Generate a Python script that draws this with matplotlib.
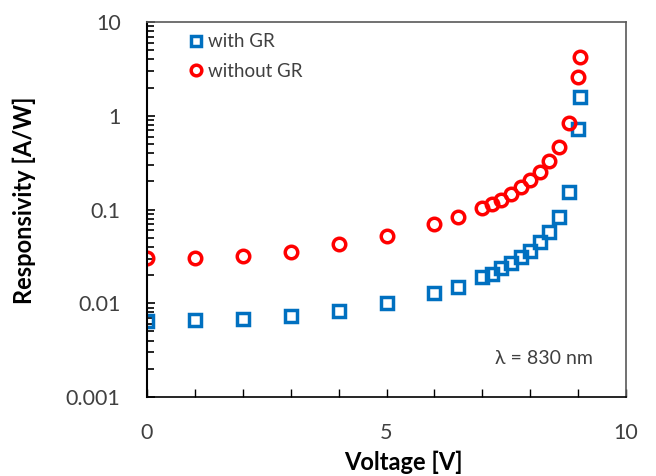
import matplotlib
matplotlib.use("Agg")
import matplotlib.pyplot as plt
from matplotlib.ticker import LogLocator, FixedLocator, NullFormatter, FuncFormatter

plt.rcParams['font.family'] = ['Lato', 'DejaVu Sans']

# Data
v_with = [0, 1, 2, 3, 4, 5, 6, 6.5, 7.0, 7.2, 7.4, 7.6, 7.8, 8.0, 8.2, 8.4, 8.6, 8.8, 9.0, 9.05]
r_with = [0.0065, 0.0066, 0.0068, 0.0073, 0.0083, 0.0101, 0.0129, 0.0149, 0.019, 0.0205,
          0.0238, 0.0269, 0.0311, 0.036, 0.045, 0.0575, 0.083, 0.154, 0.72, 1.58]
v_without = [0, 1, 2, 3, 4, 5, 6, 6.5, 7.0, 7.2, 7.4, 7.6, 7.8, 8.0, 8.2, 8.4, 8.6, 8.8, 9.0, 9.05]
r_without = [0.0304, 0.0304, 0.0319, 0.0352, 0.0428, 0.052, 0.070, 0.083, 0.104, 0.114,
             0.126, 0.146, 0.174, 0.206, 0.251, 0.329, 0.464, 0.837, 2.59, 4.24]
x_ticks = [0, 5, 10]
y_ticks = [0.001, 0.01, 0.1, 1, 10]
y_tick_labels = ['0.001', '0.01', '0.1', '1', '10']

fig = plt.figure(figsize=(6.56, 4.76), dpi=100)
ax = fig.add_axes([147/656, 1-397/476, (626-147)/656, (397-22)/476])

blue = '#0070C0'
red = '#FF0000'
ax.plot(v_with, r_with, linestyle='none', marker='s', markersize=8.9,
        markerfacecolor='none', markeredgecolor=blue, markeredgewidth=2.5, label='with GR')
ax.plot(v_without, r_without, linestyle='none', marker='o', markersize=9,
        markerfacecolor='none', markeredgecolor=red, markeredgewidth=2.5, label='without GR')

ax.set_yscale('log')
ax.set_xlim(0, 10)
ax.set_ylim(0.001, 10)

ax.xaxis.set_major_locator(FixedLocator(x_ticks))
ax.xaxis.set_minor_locator(FixedLocator([1, 2, 3, 4, 6, 7, 8, 9]))
ax.yaxis.set_major_locator(FixedLocator(y_ticks))
ax.yaxis.set_major_formatter(FuncFormatter(lambda v, p: y_tick_labels[y_ticks.index(v)] if v in y_ticks else ''))
ax.yaxis.set_minor_locator(LogLocator(base=10, subs=range(2, 10)))
ax.yaxis.set_minor_formatter(NullFormatter())

ax.tick_params(axis='both', which='both', direction='in', colors='black', labelcolor='#404040',
               labelsize=15.5)
ax.tick_params(axis='x', which='both', length=6, width=1, pad=19)
ax.tick_params(axis='y', which='major', length=6, width=1.2, pad=19)
ax.tick_params(axis='y', which='minor', length=5, width=1.2)

for s in ['top', 'right']:
    ax.spines[s].set_color('#595959')
    ax.spines[s].set_linewidth(1.2)
ax.spines['left'].set_color('black')
ax.spines['left'].set_linewidth(1.5)
ax.spines['bottom'].set_color('black')
ax.spines['bottom'].set_linewidth(1.2)

ax.set_xlabel('Voltage [V]', fontsize=17, fontweight='bold')
ax.set_ylabel('Responsivity [A/W]', fontsize=17, fontweight='bold')
ax.xaxis.set_label_coords((403-147)/479, (397-451)/375)
ax.yaxis.set_label_coords((36-147)/479, (397-200)/375)

leg = ax.legend(loc='upper left', bbox_to_anchor=(0.055, 1.015), frameon=False, fontsize=13.5,
                handlelength=0.6, handletextpad=0.35, labelspacing=0.68, markerscale=0.85)
for t in leg.get_texts():
    t.set_color('#404040')

ax.text((593-147)/479, (397-358)/375, 'λ = 830 nm', transform=ax.transAxes, ha='right', va='center',
        fontsize=14, color='#404040')

fig.savefig('out.png', dpi=100)
